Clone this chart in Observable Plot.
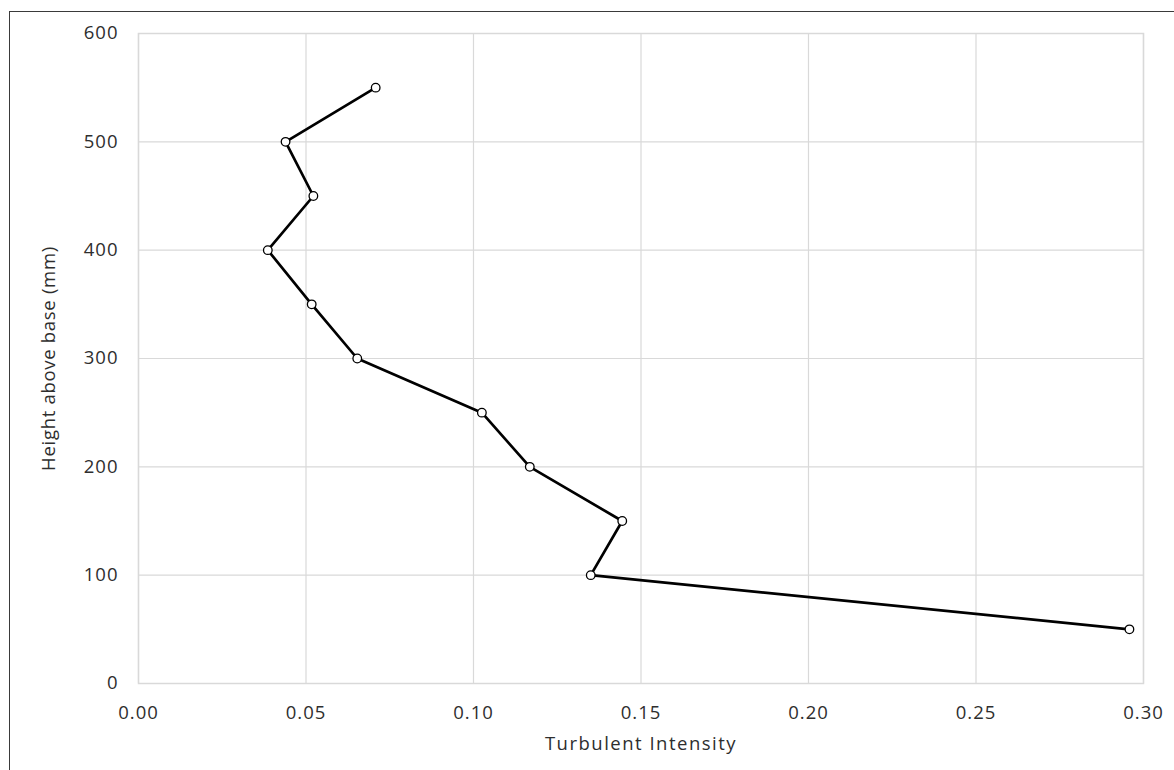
<!DOCTYPE html>
<html>
<head>
<meta charset="utf-8">
<script src="https://cdn.jsdelivr.net/npm/d3@7"></script>
<script src="https://cdn.jsdelivr.net/npm/@observablehq/plot@0.6"></script>
<style>
  html, body { margin: 0; padding: 0; background: #fff; }
  #wrap { position: relative; width: 1174px; height: 770px; overflow: hidden; }
  #frame { position: absolute; left: 9px; top: 11px; width: 1180px; height: 780px; border: 1.7px solid #3a3a3a; box-sizing: border-box; }
  #chart { position: absolute; left: 0; top: 0; }
  #chart svg g[aria-label="x-axis tick label"] text,
  #chart svg g[aria-label="y-axis tick label"] text { letter-spacing: 1px; }
  #chart svg g[aria-label="x-axis label"] text { letter-spacing: 1.5px; }
  #chart svg g[aria-label="y-axis label"] text { letter-spacing: 0.7px; }
</style>
</head>
<body>
<div id="wrap"><div id="frame"></div><div id="chart"></div></div>
<script>
const heights = [550, 500, 450, 400, 350, 300, 250, 200, 150, 100, 50];
const intensity = [0.0708, 0.0439, 0.0522, 0.0386, 0.0517, 0.0653, 0.1025, 0.1168, 0.1444, 0.1350, 0.2958];
const xTicks = [0, 0.05, 0.10, 0.15, 0.20, 0.25, 0.30];
const yTicks = [0, 100, 200, 300, 400, 500, 600];
const xLabel = "Turbulent Intensity";
const yLabel = "Height above base (mm)";

const data = heights.map((h, i) => ({h, ti: intensity[i]}));
const font = "'Open Sans', 'Noto Sans', sans-serif";

const chart = Plot.plot({
  width: 1174,
  height: 770,
  marginLeft: 138,
  marginTop: 33,
  marginRight: 31,
  marginBottom: 87,
  style: {fontFamily: font, fontSize: "18.5px", color: "#2e2e2e", background: "transparent"},
  x: {domain: [0, 0.30]},
  y: {domain: [0, 600]},
  marks: [
    Plot.gridX(xTicks, {stroke: "#d9d9d9", strokeOpacity: 1, strokeWidth: 1.2}),
    Plot.gridY(yTicks, {stroke: "#d9d9d9", strokeOpacity: 1, strokeWidth: 1.2}),
    Plot.frame({stroke: "#d9d9d9", strokeWidth: 1.5}),
    Plot.axisX({ticks: xTicks, tickFormat: d3.format(".2f"), tickSize: 0, tickPadding: 22,
      label: xLabel, labelAnchor: "center", labelArrow: "none", labelOffset: 66, fontSize: 18.5}),
    Plot.axisY({ticks: yTicks, tickSize: 0, tickPadding: 20,
      label: yLabel, labelAnchor: "center", labelArrow: "none", labelOffset: 97, fontSize: 18.5}),
    Plot.line(data, {x: "ti", y: "h", stroke: "#000", strokeWidth: 2.7}),
    Plot.dot(data, {x: "ti", y: "h", r: 4.3, fill: "#fff", stroke: "#000", strokeWidth: 1.3})
  ]
});
document.getElementById("chart").appendChild(chart);
</script>
</body>
</html>
